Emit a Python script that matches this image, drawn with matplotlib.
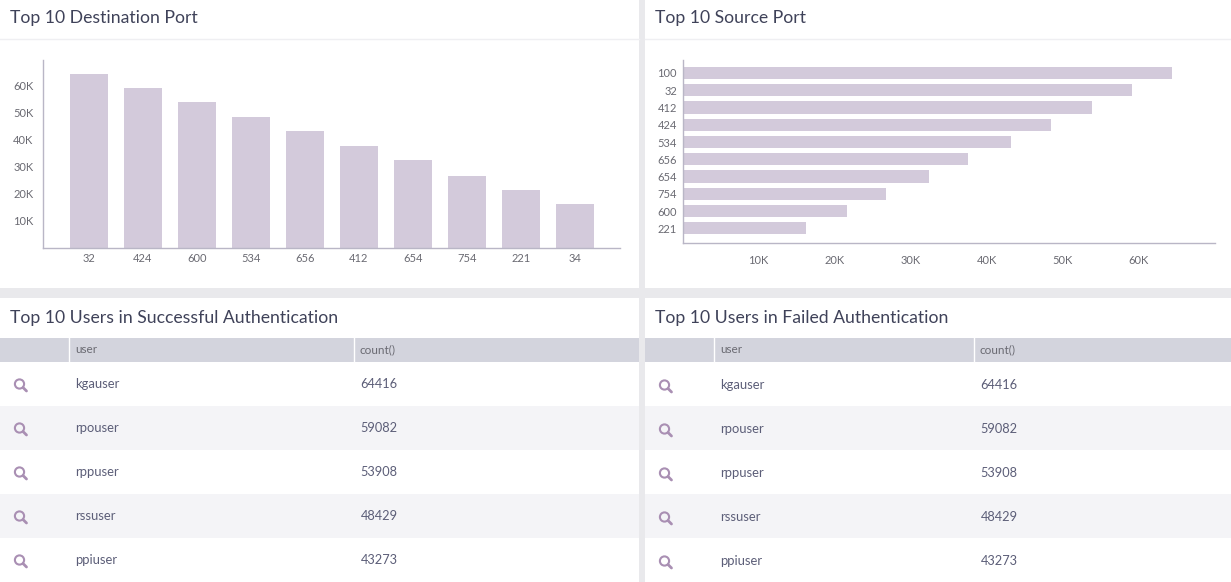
import matplotlib
matplotlib.use("Agg")
import matplotlib.pyplot as plt
from matplotlib.patches import Rectangle, Circle

plt.rcParams["font.family"] = ["Lato", "DejaVu Sans"]

W, H = 1231, 582
TITLE_COLOR = "#3f4259"
TICK_COLOR = "#6a6a72"
BAR_COLOR = "#d3cadb"
AXIS_COLOR = "#b9b6c6"
HEADER_COLOR = "#d3d4dd"
STRIPE_COLOR = "#f4f4f7"
GAP_COLOR = "#e9e9ec"
ICON_COLOR = "#a98fb3"
TEXT_COLOR = "#5c5e78"

dest_ports = ["32", "424", "600", "534", "656", "412", "654", "754", "221", "34"]
dest_counts = [64416, 59082, 53908, 48429, 43273, 37700, 32500, 26800, 21600, 16300]

source_ports = ["100", "32", "412", "424", "534", "656", "654", "754", "600", "221"]
source_counts = [64416, 59082, 53908, 48429, 43273, 37600, 32400, 26800, 21600, 16200]

count_ticks = [10000, 20000, 30000, 40000, 50000, 60000]
count_labels = ["10K", "20K", "30K", "40K", "50K", "60K"]

users = ["kgauser", "rpouser", "rppuser", "rssuser", "ppiuser"]
user_counts = [64416, 59082, 53908, 48429, 43273]


def px_axes(fig, left, top, right, bottom):
    return fig.add_axes([left / W, 1 - bottom / H, (right - left) / W, (bottom - top) / H])


def style_chart(ax):
    ax.patch.set_alpha(0)
    ax.spines["top"].set_visible(False)
    ax.spines["right"].set_visible(False)
    ax.spines["left"].set_color(AXIS_COLOR)
    ax.spines["bottom"].set_color(AXIS_COLOR)
    ax.spines["left"].set_linewidth(1)
    ax.spines["bottom"].set_linewidth(1)
    ax.tick_params(length=0, labelsize=8, labelcolor=TICK_COLOR)


def draw_table(bg, left, right, title, col_user, col_count, dy):
    bg.add_patch(Rectangle((left, 298), right - left, H - 298, fc="white", ec="none"))
    bg.text(left + 10, 318, title, fontsize=12.7, color=TITLE_COLOR, va="center")
    bg.add_patch(Rectangle((left, 338), right - left, 24, fc=HEADER_COLOR, ec="none"))
    bg.plot([col_user, col_user], [338, 362], color="white", lw=1)
    bg.plot([col_count, col_count], [338, 362], color="white", lw=1)
    bg.text(col_user + 6, 349.5, "user", fontsize=8.5, color=TICK_COLOR, va="center")
    bg.text(col_count + 6, 349.5, "count()", fontsize=8.5, color=TICK_COLOR, va="center")
    for i, (user, count) in enumerate(zip(users, user_counts)):
        top = 362 + i * 44
        if i % 2 == 1:
            bg.add_patch(Rectangle((left, top), right - left, 44, fc=STRIPE_COLOR, ec="none"))
        y = 384 + i * 44 + dy
        bg.text(col_user + 6, y, user, fontsize=9.4, color=TEXT_COLOR, va="center")
        bg.text(col_count + 6.5, y, str(count), fontsize=9.2, color=TEXT_COLOR, va="center")
        # magnifier icon
        cx, cy = left + 19.5, y
        bg.add_patch(Circle((cx, cy), 4.6, fc="none", ec=ICON_COLOR, lw=1.5))
        bg.plot([cx + 3.6, cx + 7], [cy + 3.6, cy + 7], color=ICON_COLOR, lw=2,
                solid_capstyle="round")


fig = plt.figure(figsize=(W / 100, H / 100), dpi=100, facecolor=GAP_COLOR)

bg = fig.add_axes([0, 0, 1, 1])
bg.set_xlim(0, W)
bg.set_ylim(H, 0)
bg.axis("off")

# top panels
for left, right, title in [(0, 639, "Top 10 Destination Port"), (645, W, "Top 10 Source Port")]:
    bg.add_patch(Rectangle((left, 0), right - left, 288, fc="white", ec="none"))
    bg.plot([left, right], [38.5, 38.5], color="#efeff2", lw=1)
    bg.text(left + 10, 18, title, fontsize=12.7, color=TITLE_COLOR, va="center")

# bottom panels
draw_table(bg, 0, 639, "Top 10 Users in Successful Authentication", 69, 354, 0)
draw_table(bg, 645, W, "Top 10 Users in Failed Authentication", 714, 974, 1)

# destination port bars
ax1 = px_axes(fig, 43, 60, 619.5, 248)
ax1.bar(range(len(dest_ports)), dest_counts, width=0.7, color=BAR_COLOR)
ax1.set_xlim(-0.85, 9.83)
ax1.set_ylim(0, 69600)
ax1.set_xticks(range(len(dest_ports)), dest_ports)
ax1.set_yticks(count_ticks, count_labels)
style_chart(ax1)
ax1.tick_params(axis="x", pad=3.5)
ax1.tick_params(axis="y", pad=7)

# source port bars
ax2 = px_axes(fig, 682.5, 60, 1214.5, 243)
ax2.barh(range(len(source_ports)), source_counts, height=0.7, color=BAR_COLOR)
ax2.set_ylim(9.85, -0.75)
ax2.set_xlim(0, 70000)
ax2.set_yticks(range(len(source_ports)), source_ports, va="center_baseline")
ax2.set_xticks(count_ticks, count_labels)
style_chart(ax2)
ax2.tick_params(axis="x", pad=8.5)
ax2.tick_params(axis="y", pad=4)

fig.savefig("out.png", dpi=100, facecolor=fig.get_facecolor())
